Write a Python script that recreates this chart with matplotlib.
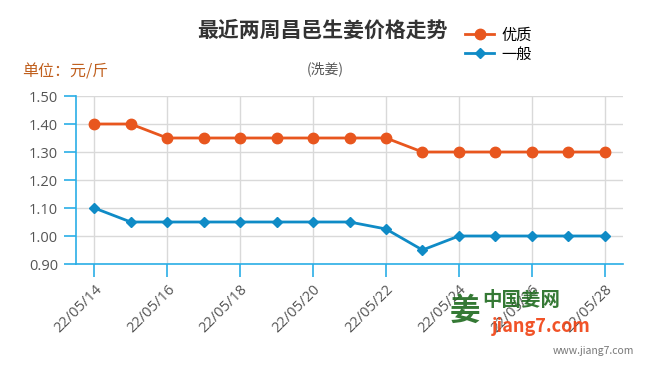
import matplotlib.pyplot as plt

plt.rcParams['font.family'] = ['Noto Sans CJK SC', 'DejaVu Sans']

dates = ['22/05/14', '22/05/15', '22/05/16', '22/05/17', '22/05/18', '22/05/19', '22/05/20',
         '22/05/21', '22/05/22', '22/05/23', '22/05/24', '22/05/25', '22/05/26', '22/05/27', '22/05/28']
premium = [1.40, 1.40, 1.35, 1.35, 1.35, 1.35, 1.35, 1.35, 1.35, 1.30, 1.30, 1.30, 1.30, 1.30, 1.30]
normal = [1.10, 1.05, 1.05, 1.05, 1.05, 1.05, 1.05, 1.05, 1.025, 0.95, 1.00, 1.00, 1.00, 1.00, 1.00]
y_ticks = [0.90, 1.00, 1.10, 1.20, 1.30, 1.40, 1.50]

ORANGE = '#e8561e'
BLUE = '#0f8bc6'
AXIS = '#2aaee6'
GRID = '#d9d9d9'
TXT = '#555555'

fig = plt.figure(figsize=(6.47, 3.75), dpi=100)
ax = fig.add_axes([0.1175, 0.296, 0.8455, 0.448])

x = list(range(len(dates)))
ax.plot(x, premium, color=ORANGE, lw=2, marker='o', ms=7.5, label='优质', zorder=3)
ax.plot(x, normal, color=BLUE, lw=2, marker='D', ms=5.5, label='一般', zorder=3)

ax.set_xlim(-0.5, 14.5)
ax.set_ylim(0.90, 1.50)
ax.set_yticks(y_ticks)
ax.set_yticklabels([f'{v:.2f}' for v in y_ticks], fontsize=10.5, color=TXT, family='Open Sans')
ax.set_xticks(x[::2])
ax.set_xticklabels(dates[::2], rotation=45, ha='right', rotation_mode='anchor',
                   fontsize=10.5, color=TXT, family='Open Sans')

ax.grid(True, color=GRID, lw=1)
ax.set_axisbelow(True)
for s in ['top', 'right']:
    ax.spines[s].set_visible(False)
for s in ['left', 'bottom']:
    ax.spines[s].set_color(AXIS)
    ax.spines[s].set_linewidth(1.2)
ax.tick_params(axis='both', color=AXIS, length=9, width=1.2, pad=4)

fig.text(0.498, 0.92, '最近两周昌邑生姜价格走势', ha='center', va='center',
         fontsize=15, fontweight='bold', color='#333333')
fig.text(0.502, 0.817, '(洗姜)', ha='center', va='center', fontsize=10, color=TXT)
fig.text(0.034, 0.807, '单位：元/斤', ha='left', va='center', fontsize=11.5, color='#c0601f')

ax.legend(loc='upper left', bbox_to_anchor=(0.70, 1.45), frameon=False, fontsize=11,
          handlelength=1.9, handletextpad=0.5, labelspacing=0.15, borderaxespad=0)

# watermark
fig.text(0.745, 0.2, '中国姜网', ha='left', va='center', fontsize=14, color='#1f6b1f',
         fontweight='bold', alpha=0.9)
fig.text(0.76, 0.13, 'jiang7.com', ha='left', va='center', fontsize=13, color='#f04010',
         fontweight='bold', style='italic', alpha=0.9)
fig.text(0.695, 0.17, '姜', ha='left', va='center', fontsize=22, color='#1f6b1f',
         fontweight='bold', alpha=0.9)
fig.text(0.98, 0.065, 'www.jiang7.com', ha='right', va='center', fontsize=7.5, color='#777777')

fig.savefig('out.png', dpi=100)
